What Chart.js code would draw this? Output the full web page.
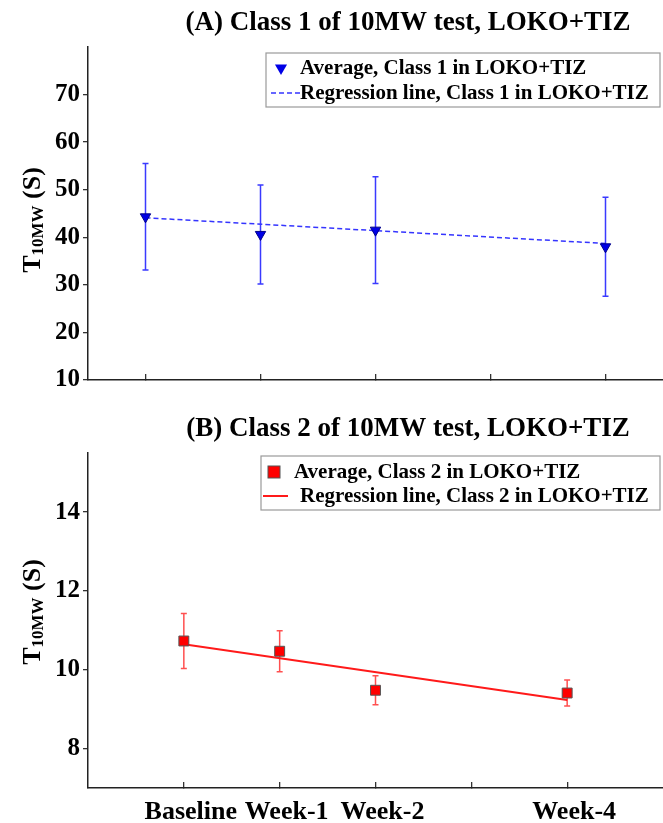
<!DOCTYPE html>
<html>
<head>
<meta charset="utf-8">
<script src="https://cdn.jsdelivr.net/npm/chart.js@4.4.0/dist/chart.umd.min.js"></script>
<style>
  html, body { margin: 0; padding: 0; background: #fff; }
  #wrap { position: relative; width: 663px; height: 823px; }
  .panel { position: absolute; left: 0; width: 663px; }
  #panelA { top: 0; height: 400px; }
  #panelB { top: 400px; height: 423px; }
</style>
</head>
<body>
<div id="wrap">
  <div class="panel" id="panelA"><canvas id="chartA"></canvas></div>
  <div class="panel" id="panelB"><canvas id="chartB"></canvas></div>
</div>
<script>
// data
const xTicks = [1, 2, 3, 4, 5];
const xTickLabels = ['Baseline', 'Week-1', 'Week-2', '', 'Week-4'];
const xPoints = [1, 2, 3, 5];
const regX = [1, 5];

const class1Mean = [44.3, 40.6, 41.5, 38.0];
const class1Err = [11.2, 10.4, 11.2, 10.4];
const class1Reg = [44.1, 38.7];
const class1YTicks = [10, 20, 30, 40, 50, 60, 70];

const class2Mean = [10.73, 10.47, 9.48, 9.41];
const class2Err = [0.70, 0.52, 0.37, 0.33];
const class2Reg = [10.65, 9.23];
const class2YTicks = [8, 10, 12, 14];

const FONT = "'Liberation Serif', 'Times New Roman', serif";

// titles, y-axis title with subscript, legend box and error bars
const panelDeco = {
  id: 'panelDeco',
  beforeDatasetsDraw(chart, args, opts) {
    const ctx = chart.ctx, xs = chart.scales.x, ys = chart.scales.y;
    ctx.save();
    ctx.strokeStyle = opts.errColor;
    ctx.lineWidth = 1.5;
    opts.xs.forEach((xv, i) => {
      const px = xs.getPixelForValue(xv);
      const top = ys.getPixelForValue(opts.means[i] + opts.errs[i]);
      const bot = ys.getPixelForValue(opts.means[i] - opts.errs[i]);
      ctx.beginPath();
      ctx.moveTo(px, top); ctx.lineTo(px, bot);
      ctx.moveTo(px - 3, top); ctx.lineTo(px + 3, top);
      ctx.moveTo(px - 3, bot); ctx.lineTo(px + 3, bot);
      ctx.stroke();
    });
    ctx.restore();
  },
  afterDraw(chart, args, opts) {
    const ctx = chart.ctx;
    ctx.save();
    ctx.fillStyle = '#000';

    // panel title
    ctx.font = 'bold 27px ' + FONT;
    ctx.textAlign = 'center';
    ctx.textBaseline = 'alphabetic';
    ctx.fillText(opts.title, opts.titleX, opts.titleY);

    // y axis title: T10MW (S)
    ctx.save();
    ctx.translate(40, opts.yTitleY);
    ctx.rotate(-Math.PI / 2);
    ctx.textAlign = 'left';
    ctx.textBaseline = 'alphabetic';
    const big = 'bold 26px ' + FONT, small = 'bold 17px ' + FONT;
    ctx.font = big; const wT = ctx.measureText('T').width;
    ctx.font = small; const wSub = ctx.measureText('10MW').width;
    ctx.font = big; const wS = ctx.measureText(' (S)').width;
    let x0 = -(wT + wSub + wS) / 2;
    ctx.font = big; ctx.fillText('T', x0, 0); x0 += wT;
    ctx.font = small; ctx.fillText('10MW', x0, 3); x0 += wSub;
    ctx.font = big; ctx.fillText(' (S)', x0, 0);
    ctx.restore();

    // legend box
    const lg = opts.legend;
    ctx.fillStyle = '#fff';
    ctx.fillRect(lg.x, lg.y, lg.w, lg.h);
    ctx.strokeStyle = '#9a9a9a';
    ctx.lineWidth = 1.2;
    ctx.strokeRect(lg.x, lg.y, lg.w, lg.h);
    ctx.font = 'bold 21px ' + FONT;
    ctx.textAlign = 'left';
    ctx.textBaseline = 'middle';
    lg.rows.forEach(row => {
      const ds = chart.data.datasets[row.ds];
      if (row.kind === 'triangle') {
        const r = 7;
        ctx.beginPath();
        ctx.moveTo(row.mx, row.y + r);
        ctx.lineTo(row.mx - r * 0.866, row.y - r / 2);
        ctx.lineTo(row.mx + r * 0.866, row.y - r / 2);
        ctx.closePath();
        ctx.fillStyle = ds.pointBackgroundColor;
        ctx.fill();
      } else if (row.kind === 'rect') {
        ctx.fillStyle = ds.pointBackgroundColor;
        ctx.fillRect(row.mx - 6, row.y - 6, 12, 12);
        ctx.strokeStyle = ds.pointBorderColor;
        ctx.lineWidth = 1;
        ctx.strokeRect(row.mx - 6, row.y - 6, 12, 12);
      } else {
        ctx.strokeStyle = ds.borderColor;
        ctx.lineWidth = ds.borderWidth;
        ctx.setLineDash(ds.borderDash || []);
        ctx.beginPath();
        ctx.moveTo(row.l1, row.y); ctx.lineTo(row.l2, row.y);
        ctx.stroke();
        ctx.setLineDash([]);
      }
      ctx.fillStyle = '#000';
      ctx.fillText(ds.label, row.tx, row.y + 1);
    });
    ctx.restore();
  }
};

function makeChart(id, cfg) {
  return new Chart(document.getElementById(id), {
    type: 'line',
    data: {
      datasets: [
        {
          label: cfg.meanLabel,
          data: xPoints.map((x, i) => ({ x: x, y: cfg.means[i] })),
          showLine: false,
          pointStyle: cfg.pointStyle,
          rotation: cfg.rotation,
          pointRadius: cfg.pointRadius,
          pointBackgroundColor: cfg.markerColor,
          pointBorderColor: cfg.markerEdge,
          pointBorderWidth: 1,
          order: 0
        },
        {
          label: cfg.regLabel,
          data: regX.map((x, i) => ({ x: x, y: cfg.reg[i] })),
          borderColor: cfg.regColor,
          borderWidth: cfg.regWidth,
          borderDash: cfg.regDash,
          pointRadius: 0,
          fill: false,
          order: 1
        }
      ]
    },
    options: {
      responsive: true,
      maintainAspectRatio: false,
      animation: false,
      events: [],
      layout: { autoPadding: false, padding: { left: 0, right: 0, top: cfg.padTop, bottom: 0 } },
      scales: {
        x: {
          type: 'linear',
          min: cfg.xMin,
          max: cfg.xMax,
          afterBuildTicks: s => { s.ticks = xTicks.map(v => ({ value: v })); },
          afterFit: s => { s.height = cfg.xHeight; },
          grid: { drawOnChartArea: false, tickLength: -6, color: '#333', lineWidth: 1.3 },
          border: { color: '#222', width: 1.5 },
          ticks: {
            display: cfg.showXLabels,
            padding: 15,
            labelOffset: 7,
            color: '#000',
            font: { family: FONT, size: 26, weight: 'bold' },
            callback: v => xTickLabels[xTicks.indexOf(v)]
          }
        },
        y: {
          min: cfg.yMin,
          max: cfg.yMax,
          afterBuildTicks: s => { s.ticks = cfg.yTicks.map(v => ({ value: v })); },
          afterFit: s => { s.width = 88; },
          grid: { drawOnChartArea: false, tickLength: 5, color: '#333', lineWidth: 1.3 },
          border: { color: '#222', width: 1.5 },
          ticks: {
            padding: 3,
            color: '#000',
            font: { family: FONT, size: 25, weight: 'bold' }
          }
        }
      },
      plugins: {
        legend: { display: false },
        tooltip: { enabled: false },
        panelDeco: {
          title: cfg.title, titleX: cfg.titleX, titleY: cfg.titleY,
          yTitleY: cfg.yTitleY,
          xs: xPoints, means: cfg.means, errs: cfg.errs, errColor: cfg.errColor,
          legend: cfg.legend
        }
      }
    },
    plugins: [panelDeco]
  });
}

makeChart('chartA', {
  title: '(A) Class 1 of 10MW test, LOKO+TIZ', titleX: 408, titleY: 30,
  yTitleY: 220,
  meanLabel: 'Average, Class 1 in LOKO+TIZ',
  regLabel: 'Regression line, Class 1 in LOKO+TIZ',
  means: class1Mean, errs: class1Err, reg: class1Reg,
  pointStyle: 'triangle', rotation: 180, pointRadius: 6,
  markerColor: '#0000e6', markerEdge: '#00008a',
  regColor: '#3535ff', regWidth: 1.5, regDash: [5, 3],
  errColor: '#3a3aff',
  xMin: 0.5, xMax: 5.5, xHeight: 20, showXLabels: false,
  yMin: 10, yMax: 80, yTicks: class1YTicks,
  padTop: 47,
  legend: {
    x: 266, y: 53, w: 394, h: 54,
    rows: [
      { ds: 0, kind: 'triangle', y: 68, mx: 281, tx: 300 },
      { ds: 1, kind: 'line', y: 93, l1: 271, l2: 300, tx: 300 }
    ]
  }
});

makeChart('chartB', {
  title: '(B) Class 2 of 10MW test, LOKO+TIZ', titleX: 408, titleY: 36,
  yTitleY: 212,
  meanLabel: 'Average, Class 2 in LOKO+TIZ',
  regLabel: 'Regression line, Class 2 in LOKO+TIZ',
  means: class2Mean, errs: class2Err, reg: class2Reg,
  pointStyle: 'rect', rotation: 0, pointRadius: 7,
  markerColor: '#ff0000', markerEdge: '#555555',
  regColor: '#ff1a1a', regWidth: 2, regDash: [],
  errColor: '#ff5050',
  xMin: 0, xMax: 6, xHeight: 35, showXLabels: true,
  yMin: 7, yMax: 15.5, yTicks: class2YTicks,
  padTop: 53,
  legend: {
    x: 261, y: 56, w: 399, h: 54,
    rows: [
      { ds: 0, kind: 'rect', y: 72, mx: 274, tx: 294 },
      { ds: 1, kind: 'line', y: 96, l1: 263, l2: 288, tx: 300 }
    ]
  }
});
</script>
</body>
</html>
